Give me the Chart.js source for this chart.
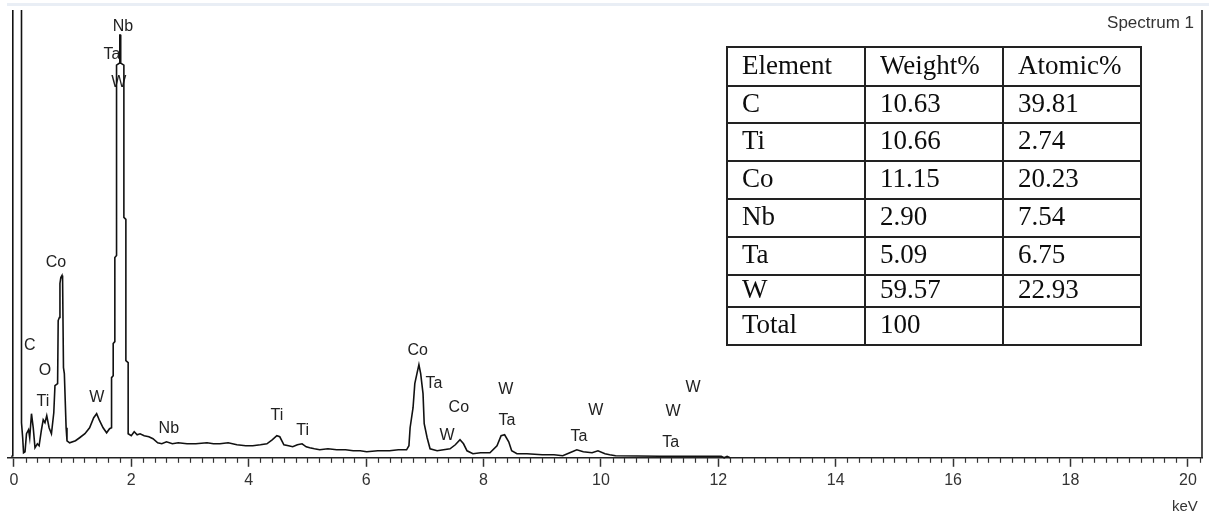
<!DOCTYPE html>
<html lang="en">
<head>
<meta charset="UTF-8">
<title>EDS Spectrum 1</title>
<script src="https://cdn.jsdelivr.net/npm/chart.js@4.4.1/dist/chart.umd.min.js"></script>
<style>
  html, body { margin: 0; padding: 0; background: #fff; }
  #wrap { position: relative; width: 1209px; height: 520px; }
  #spectrumChart { display: block; }
  #comp-table {
    position: absolute; left: 726px; top: 46px;
    border-collapse: collapse;
    font-family: "Liberation Serif", "Times New Roman", serif;
    font-size: 27px; color: #0d0d0d;
  }
  #comp-table td {
    border: 2px solid #222; width: 122px;
    padding: 0 0 3px 14px; line-height: 1; white-space: nowrap;
  }
</style>
</head>
<body>
<div id="wrap">
  <canvas id="spectrumChart" width="1209" height="520"></canvas>
  <table id="comp-table"><tbody></tbody></table>
</div>
<script>
// --- Data ---
// spectrum outline: energy in keV, counts in arbitrary units (0..447 fills the plot)
const energyKeV = [
  -0.04, -0.025, -0.025, -0.015, -0.015, 0.13, 0.13, 0.15, 0.165, 0.19,
  0.215, 0.25, 0.27, 0.30, 0.33, 0.36, 0.40, 0.43, 0.47, 0.50,
  0.53, 0.56, 0.60, 0.64, 0.68, 0.70, 0.745, 0.755, 0.775, 0.785,
  0.80, 0.82, 0.83, 0.845, 0.86, 0.89, 0.905, 0.95, 1.05, 1.12,
  1.21, 1.29, 1.36, 1.41, 1.46, 1.52, 1.58, 1.63, 1.664, 1.664,
  1.692, 1.692, 1.72, 1.72, 1.749, 1.749, 1.80, 1.805, 1.815, 1.82,
  1.874, 1.874, 1.908, 1.908, 1.947, 1.947, 2.0, 2.05, 2.1, 2.15,
  2.22, 2.3, 2.37, 2.45, 2.52, 2.6, 2.7, 2.8, 2.95, 3.1,
  3.29, 3.4, 3.51, 3.65, 3.8, 3.95, 4.07, 4.2, 4.31, 4.40,
  4.48, 4.53, 4.6, 4.68, 4.75, 4.83, 4.91, 4.98, 5.04, 5.12,
  5.21, 5.35, 5.50, 5.65, 5.78, 5.9, 6.01, 6.2, 6.4, 6.55,
  6.69, 6.73, 6.75, 6.80, 6.83, 6.87, 6.90, 6.93, 6.97, 6.99,
  7.04, 7.09, 7.21, 7.32, 7.43, 7.52, 7.60, 7.66, 7.72, 7.82,
  7.95, 8.11, 8.23, 8.30, 8.36, 8.43, 8.48, 8.57, 8.74, 9.0,
  9.2, 9.35, 9.47, 9.59, 9.70, 9.85, 9.95, 10.07, 10.15, 10.25,
  11.0, 12.05, 12.1, 12.15, 12.2
];
const counts = [
  1, 2, 207, 208, 600, 600, 35, 20, 5, 6,
  24, 28, 20, 44, 30, 10, 14, 12, 28, 38,
  35, 42, 30, 24, 45, 72, 74, 137, 140, 174,
  180, 182, 178, 90, 84, 30, 17, 15, 17, 20,
  24, 30, 40, 44, 37, 30, 25, 29, 30, 80,
  82, 114, 116, 200, 202, 392, 394, 422, 422, 394,
  392, 240, 238, 97, 95, 24, 22, 26, 23, 24,
  22, 21, 19, 15, 14, 16, 14, 15, 14, 14,
  15, 14, 14, 15, 13, 12, 12, 13, 14, 18,
  22, 21, 13, 12, 11, 13, 14, 11, 10, 9,
  8, 9, 8, 8, 7, 7, 6, 7, 7, 8,
  8, 12, 30, 50, 74, 85, 93, 84, 64, 34,
  20, 9, 7, 8, 9, 13, 18, 14, 7, 4,
  5, 5, 12, 22, 23, 16, 7, 4, 4, 3,
  3, 2, 5, 8, 6, 5, 7, 4, 3, 2,
  1.5, 1.5, 0, 1.5, 0
];

// x-axis labels
const tickLabelsKeV = [0, 2, 4, 6, 8, 10, 12, 14, 16, 18, 20];

// element markers on the peaks
const peakLabels = ['Nb', 'Ta', 'W', 'Co', 'C', 'O', 'Ti', 'W', 'Nb', 'Ti', 'Ti',
  'Co', 'Ta', 'Co', 'W', 'W', 'Ta', 'W', 'Ta', 'W', 'W', 'Ta'];
const peakLabelKeV = [1.857, 1.67, 1.789, 0.716, 0.273, 0.528, 0.494, 1.414, 2.64, 4.48, 4.92,
  6.88, 7.155, 7.58, 7.38, 8.38, 8.40, 9.915, 9.625, 11.23, 11.57, 11.19];
const peakLabelCounts = [430, 402, 375, 195, 112, 87, 56, 60, 29, 42, 27,
  107, 74, 50, 22, 68, 37, 47, 21, 46, 70, 15];

// composition table
const tableHeader = ['Element', 'Weight%', 'Atomic%'];
const elements = ['C', 'Ti', 'Co', 'Nb', 'Ta', 'W', 'Total'];
const weightPct = ['10.63', '10.66', '11.15', '2.90', '5.09', '59.57', '100'];
const atomicPct = ['39.81', '2.74', '20.23', '7.54', '6.75', '22.93', ''];

const spectrumTitle = 'Spectrum 1';

document.addEventListener('DOMContentLoaded', () => {
    const canvas = document.getElementById('spectrumChart');
    const tbody = document.querySelector('#comp-table tbody');

    // --- Table ---
    const rowHeights = [39, 37, 38, 38, 38, 38, 32, 38];
    const addRow = (cells, h) => {
        const tr = document.createElement('tr');
        tr.style.height = h + 'px';
        cells.forEach(c => {
            const td = document.createElement('td');
            td.textContent = c;
            tr.appendChild(td);
        });
        tbody.appendChild(tr);
    };
    addRow(tableHeader, rowHeights[0]);
    elements.forEach((el, i) => addRow([el, weightPct[i], atomicPct[i]], rowHeights[i + 1]));

    // --- Extra drawing: labels, minor ticks, frame ---
    const LABEL_FONT = '16px "Liberation Sans", Arial, sans-serif';

    const spectrumDecor = {
        id: 'spectrumDecor',
        beforeDraw(chart) {
            const { ctx } = chart;
            ctx.save();
            ctx.fillStyle = '#e9eef5'; // faint band across the top
            ctx.fillRect(7, 3, chart.width - 7, 3);
            ctx.restore();
        },
        beforeDatasetsDraw(chart) {
            // element names sit under the trace
            const { ctx, scales: { x, y } } = chart;
            ctx.save();
            ctx.font = LABEL_FONT;
            ctx.fillStyle = '#222';
            ctx.textAlign = 'center';
            ctx.textBaseline = 'middle';
            peakLabels.forEach((t, i) => {
                ctx.fillText(t, x.getPixelForValue(peakLabelKeV[i]), y.getPixelForValue(peakLabelCounts[i]));
            });
            ctx.restore();
        },
        afterDraw(chart) {
            const { ctx, chartArea, scales: { x } } = chart;
            ctx.save();
            // minor ticks every 0.2 keV
            ctx.strokeStyle = '#333';
            ctx.lineWidth = 1.2;
            for (let i = 0; i <= 101; i++) {
                const v = i * 0.2;
                if (i % 10 === 0 || v > x.max) continue;
                const px = Math.round(x.getPixelForValue(v)) + 0.5;
                ctx.beginPath();
                ctx.moveTo(px, chartArea.bottom);
                ctx.lineTo(px, chartArea.bottom + 5);
                ctx.stroke();
            }
            // right side of the frame
            ctx.strokeStyle = '#222';
            ctx.lineWidth = 1.6;
            ctx.beginPath();
            ctx.moveTo(chartArea.right, chartArea.top);
            ctx.lineTo(chartArea.right, chartArea.bottom);
            ctx.stroke();
            // title in the corner
            ctx.font = '17px "Liberation Sans", Arial, sans-serif';
            ctx.fillStyle = '#333';
            ctx.textAlign = 'right';
            ctx.textBaseline = 'middle';
            ctx.fillText(spectrumTitle, chartArea.right - 8, 23);
            ctx.restore();
        }
    };

    // --- Chart ---
    const points = energyKeV.map((e, i) => ({ x: e, y: counts[i] }));

    new Chart(canvas, {
        type: 'line',
        data: {
            datasets: [{
                data: points,
                borderColor: '#111',
                borderWidth: 1.6,
                pointRadius: 0,
                tension: 0,
                fill: false,
                clip: { left: 4, right: 0, top: 0, bottom: 4 }
            }]
        },
        options: {
            responsive: false,
            animation: false,
            layout: { padding: { left: 8, right: 7, top: 10, bottom: 4 } },
            plugins: {
                legend: { display: false },
                tooltip: { enabled: false }
            },
            scales: {
                x: {
                    type: 'linear',
                    min: -0.1,
                    max: 20.24,
                    afterBuildTicks: (scale) => {
                        scale.ticks = tickLabelsKeV.map(v => ({ value: v }));
                    },
                    ticks: {
                        callback: (v) => String(v),
                        font: { family: '"Liberation Sans", Arial, sans-serif', size: 16 },
                        color: '#333',
                        padding: 4,
                        maxRotation: 0,
                        autoSkip: false
                    },
                    grid: {
                        display: true,
                        drawOnChartArea: false,
                        tickLength: 9,
                        tickWidth: 1.5,
                        tickColor: '#333'
                    },
                    border: { display: true, color: '#222', width: 1.6 },
                    title: {
                        display: true,
                        text: 'keV ',
                        align: 'end',
                        font: { family: '"Liberation Sans", Arial, sans-serif', size: 15 },
                        color: '#333',
                        padding: { top: 4, bottom: 0 }
                    }
                },
                y: { display: false, min: 0, max: 447 }
            }
        },
        plugins: [spectrumDecor]
    });
});
</script>
</body>
</html>
